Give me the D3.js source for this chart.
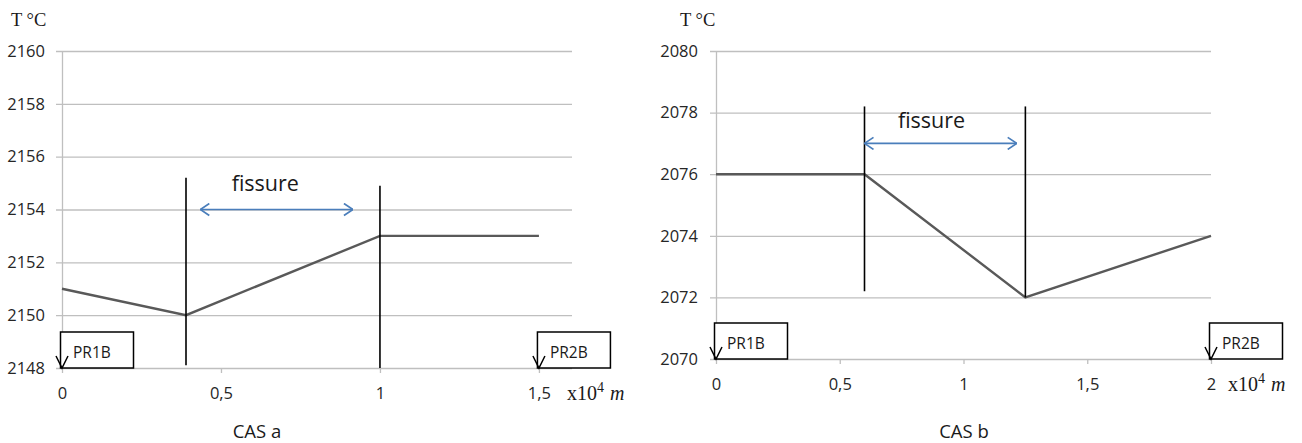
<!DOCTYPE html>
<html>
<head>
<meta charset="utf-8">
<script src="https://cdn.jsdelivr.net/npm/d3@7"></script>
<style>
  html, body { margin: 0; padding: 0; background: #fff; }
  svg { display: block; }
</style>
</head>
<body>
<svg id="chart" width="1302" height="443"></svg>
<script>
// Case a: temperature profile between PR1B and PR2B
const distA = [0, 0.39, 1, 1.5];
const tempA = [2151, 2150, 2153, 2153];
const xTicksA = [0, 0.5, 1, 1.5];
const xTickLabelsA = ["0", "0,5", "1", "1,5"];
const yTicksA = [2148, 2150, 2152, 2154, 2156, 2158, 2160];
const crackEdgesA = [0.39, 1];
const crackTopsA = [2155.2, 2154.9];
const crackBottomsA = [2148.1, 2148];
const crackArrowA = [0.435, 0.915];
const crackArrowYA = 2154;

// Case b
const distB = [0, 0.6, 1.25, 2];
const tempB = [2076, 2076, 2072, 2074];
const xTicksB = [0, 0.5, 1, 1.5, 2];
const xTickLabelsB = ["0", "0,5", "1", "1,5", "2"];
const yTicksB = [2070, 2072, 2074, 2076, 2078, 2080];
const crackEdgesB = [0.6, 1.25];
const crackTopsB = [2078.2, 2078.2];
const crackBottomsB = [2072.2, 2072];
const crackArrowB = [0.6, 1.215];
const crackArrowYB = 2077;

const stations = ["PR1B", "PR2B"];

const svg = d3.select("#chart");
const FONT = "'Open Sans', 'DejaVu Sans', sans-serif";
const SERIF = "'Liberation Serif', 'DejaVu Serif', serif";

// open chevron head for the crack-extent arrow
svg.append("defs").append("marker")
  .attr("id", "chev")
  .attr("viewBox", "0 0 10 14")
  .attr("refX", 9.5).attr("refY", 7)
  .attr("markerWidth", 10).attr("markerHeight", 14)
  .attr("markerUnits", "userSpaceOnUse")
  .attr("orient", "auto-start-reverse")
  .append("path")
  .attr("d", "M0.5,1 L9.5,7 L0.5,13")
  .attr("fill", "none")
  .attr("stroke", "#4a7ebb")
  .attr("stroke-width", 1.7);

function drawPanel(cfg) {
  const g = svg.append("g");
  const x = d3.scaleLinear().domain(cfg.xDomain).range([cfg.left, cfg.right]);
  const y = d3.scaleLinear().domain(cfg.yDomain).range([cfg.bottom, cfg.top]);

  // horizontal gridlines with outer ticks
  const yAxis = d3.axisLeft(y).tickValues(cfg.yTicks).tickFormat(d3.format("d"))
    .tickSize(-(cfg.right - cfg.left)).tickSizeOuter(0).tickPadding(cfg.yPad);
  const ya = g.append("g").attr("transform", `translate(${cfg.left},0)`).call(yAxis);
  ya.select(".domain").attr("stroke", "#bfbfbf").attr("stroke-width", 1.3);
  ya.selectAll(".tick line").attr("stroke", "#bfbfbf").attr("stroke-width", 1.3).attr("x1", -6);
  ya.selectAll(".tick text").attr("font-family", FONT).attr("font-size", 16.5).attr("fill", "#262626");

  // bottom axis
  const xAxis = d3.axisBottom(x).tickValues(cfg.xTicks)
    .tickFormat((d, i) => cfg.xTickLabels[i]).tickSize(5).tickSizeOuter(0).tickPadding(14);
  const xa = g.append("g").attr("transform", `translate(0,${cfg.bottom})`).call(xAxis);
  xa.select(".domain").remove();
  xa.selectAll(".tick line").attr("stroke", "#bfbfbf").attr("stroke-width", 1.3);
  xa.selectAll(".tick text").attr("font-family", FONT).attr("font-size", 16.5).attr("fill", "#262626");

  // temperature profile
  const pts = cfg.dist.map((d, i) => [d, cfg.temp[i]]);
  g.append("path")
    .datum(pts)
    .attr("d", d3.line().x(d => x(d[0])).y(d => y(d[1])))
    .attr("fill", "none")
    .attr("stroke", "#595959")
    .attr("stroke-width", 2.4);

  // crack boundaries
  cfg.crackEdges.forEach((c, i) => {
    g.append("line")
      .attr("x1", x(c)).attr("x2", x(c))
      .attr("y1", y(cfg.crackTops[i])).attr("y2", y(cfg.crackBottoms[i]))
      .attr("stroke", "#000").attr("stroke-width", 1.6);
  });

  // crack extent arrow
  g.append("line")
    .attr("x1", x(cfg.crackArrow[0])).attr("x2", x(cfg.crackArrow[1]))
    .attr("y1", y(cfg.crackArrowY)).attr("y2", y(cfg.crackArrowY))
    .attr("stroke", "#4a7ebb").attr("stroke-width", 1.6)
    .attr("marker-start", "url(#chev)").attr("marker-end", "url(#chev)");
  g.append("text")
    .attr("x", x(cfg.crackArrow[0]) + cfg.labelShift)
    .attr("y", y(cfg.crackArrowY) - cfg.labelLift)
    .attr("text-anchor", "middle")
    .attr("font-family", FONT).attr("font-size", 21.5).attr("fill", "#1a1a1a")
    .text("fissure");

  // station boxes at both ends
  const ends = [cfg.xDomain[0], cfg.stationEnd];
  ends.forEach((d, i) => {
    const px = x(d);
    const top = cfg.bottom - 36;
    g.append("rect")
      .attr("x", px - 1.5).attr("y", top)
      .attr("width", 73).attr("height", 36)
      .attr("fill", "#fff").attr("stroke", "#000").attr("stroke-width", 1.5);
    g.append("path")
      .attr("d", `M${px - 6},${cfg.bottom - 12} L${px},${cfg.bottom} L${px + 6},${cfg.bottom - 12}`)
      .attr("fill", "none").attr("stroke", "#000").attr("stroke-width", 1.5);
    g.append("text")
      .attr("x", px + 11).attr("y", top + 26)
      .attr("font-family", FONT).attr("font-size", 15.5).attr("fill", "#1a1a1a")
      .text(stations[i]);
  });

  // axis titles
  g.append("text")
    .attr("x", cfg.tLabelX).attr("y", 26)
    .attr("font-family", SERIF).attr("font-size", 18.5).attr("fill", "#1a1a1a")
    .text("T °C");

  const unit = g.append("text")
    .attr("x", cfg.unitX).attr("y", cfg.bottom + 32)
    .attr("font-family", SERIF).attr("font-size", 20).attr("fill", "#1a1a1a");
  unit.append("tspan").text("x10");
  unit.append("tspan").attr("dy", -8).attr("font-size", 14).text("4");
  unit.append("tspan").attr("dy", 8).attr("dx", 6).attr("font-style", "italic").text("m");

  g.append("text")
    .attr("x", cfg.captionX).attr("y", 438)
    .attr("text-anchor", "middle")
    .attr("font-family", FONT).attr("font-size", 18.5).attr("fill", "#1a1a1a")
    .text(cfg.caption);
}

drawPanel({
  left: 62, right: 572, top: 51, bottom: 368,
  xDomain: [0, 1.604], yDomain: [2148, 2160],
  xTicks: xTicksA, xTickLabels: xTickLabelsA, yTicks: yTicksA, yPad: 17,
  dist: distA, temp: tempA,
  crackEdges: crackEdgesA, crackTops: crackTopsA, crackBottoms: crackBottomsA,
  crackArrow: crackArrowA, crackArrowY: crackArrowYA,
  labelShift: 65, labelLift: 19,
  stationEnd: 1.5,
  tLabelX: 11, unitX: 567, captionX: 257, caption: "CAS a"
});

drawPanel({
  left: 716, right: 1211, top: 51, bottom: 359,
  xDomain: [0, 2], yDomain: [2070, 2080],
  xTicks: xTicksB, xTickLabels: xTickLabelsB, yTicks: yTicksB, yPad: 18,
  dist: distB, temp: tempB,
  crackEdges: crackEdgesB, crackTops: crackTopsB, crackBottoms: crackBottomsB,
  crackArrow: crackArrowB, crackArrowY: crackArrowYB,
  labelShift: 67, labelLift: 15,
  stationEnd: 2,
  tLabelX: 680, unitX: 1228, captionX: 964, caption: "CAS b"
});
</script>
</body>
</html>
